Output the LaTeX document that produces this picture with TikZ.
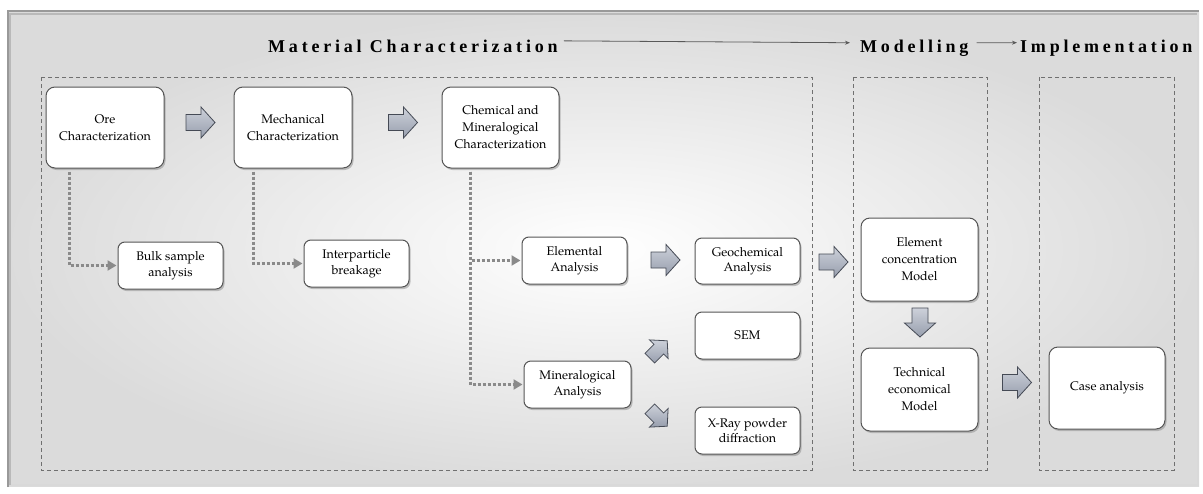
\documentclass[tikz,border=0pt]{standalone}
\usepackage{fontspec}
\setmainfont{TeX Gyre Pagella}
\newfontfamily\titlefont[LetterSpace=21]{Liberation Serif}
\usetikzlibrary{shadows,arrows.meta,calc}
\definecolor{arrtop}{HTML}{CDD1DA}
\definecolor{arrbot}{HTML}{979EAD}
\definecolor{arrline}{HTML}{454A55}
\definecolor{boxline}{HTML}{555555}
\definecolor{dashc}{HTML}{707070}
\definecolor{dotc}{HTML}{8A8A8A}
\tikzset{
  procbox/.style={draw=boxline, line width=1pt, fill=white, rounded corners=9pt,
    align=center, inner sep=2pt, font=\fontsize{12.5}{17}\selectfont,
    drop shadow={shadow xshift=1.5pt, shadow yshift=-2pt, opacity=0.45}},
  smallbox/.style={procbox, rounded corners=7pt, font=\fontsize{12.5}{15.5}\selectfont},
  phase/.style={dashc, line width=0.8pt, dash pattern=on 4pt off 3pt},
  dotconn/.style={dotc, line width=3pt, dash pattern=on 3pt off 2pt,
    -{Triangle[length=9pt,width=10pt]}, shorten >=1pt},
  titletext/.style={font=\titlefont\bfseries\fontsize{18}{20}\selectfont, inner sep=0pt, anchor=base west},
  titleline/.style={gray!70!black, line width=0.8pt, -{Stealth[length=5pt,width=4pt]}},
  barrow/.pic={\path[shade, top color=arrtop, bottom color=arrbot, draw=arrline, line width=0.8pt]
    (-14.5,-8) -- (0.5,-8) -- (0.5,-15.5) -- (14.5,0) -- (0.5,15.5) -- (0.5,8) -- (-14.5,8) -- cycle;}
}
\begin{document}
\begin{tikzpicture}[x=1pt,y=-1pt]
\useasboundingbox (0,0) rectangle (1203,493);
% frame
\shade[inner color=white, outer color=gray!28] (8,12) rectangle (1199,486);
\draw[gray!30, line width=2pt] (1198,13) -- (1198,485) -- (9,485);
\draw[gray!55, line width=1.5pt] (10,485) -- (10,14) -- (1197,14);
\draw[gray!80, line width=2pt] (8,487) -- (8,11) -- (1199,11);

% title
\node[titletext] (tmat) at (268,52) {Material Characterization};
\node[titletext] (tmod) at (860,52) {Modelling};
\node[titletext] (timp) at (1020,52) {Implementation};
\draw[titleline] ($(tmat.east)+(6,-5)$) -- ($(tmod.west)+(-10,-5)$);
\draw[titleline] ($(tmod.east)+(8,-5)$) -- ($(timp.west)+(-3,-5)$);

% phase boxes
\draw[phase] (41,77) rectangle (812,470);
\draw[phase] (853,77) rectangle (987,470);
\draw[phase] (1039,77) rectangle (1174,470);

% boxes
\node[procbox, minimum width=118pt, minimum height=81pt] (ore) at (105,127.5) {Ore\\Characterization};
\node[procbox, minimum width=118pt, minimum height=81pt] (mech) at (293,127.5) {Mechanical\\Characterization};
\node[procbox, minimum width=117pt, minimum height=81pt] (chem) at (500.5,127.5) {Chemical and\\Mineralogical\\Characterization};
\node[smallbox, minimum width=105pt, minimum height=47pt] (bulk) at (170.5,265.5) {Bulk sample\\analysis};
\node[smallbox, minimum width=105pt, minimum height=47pt] (inter) at (356.5,263.5) {Interparticle\\breakage};
\node[smallbox, minimum width=105pt, minimum height=47pt] (elem) at (574.5,260.5) {Elemental\\Analysis};
\node[smallbox, minimum width=107pt, minimum height=47pt] (miner) at (577.5,384.5) {Mineralogical\\Analysis};
\node[smallbox, minimum width=105pt, minimum height=46pt] (geo) at (747.5,261) {Geochemical\\Analysis};
\node[smallbox, minimum width=105pt, minimum height=47pt] (sem) at (747.5,335.5) {SEM};
\node[smallbox, minimum width=105pt, minimum height=47pt] (xray) at (747.5,430.5) {X-Ray powder\\diffraction};
\node[procbox, minimum width=117pt, minimum height=83pt] (econc) at (919.5,259.5) {Element\\concentration\\Model};
\node[procbox, minimum width=117pt, minimum height=83pt] (tech) at (919.5,389.5) {Technical\\economical\\Model};
\node[procbox, minimum width=116pt, minimum height=82pt] (casea) at (1107,388) {Case analysis};

% dotted connectors
\draw[dotconn] ($(ore.south west)+(24,3)$) |- (bulk.west);
\draw[dotconn] ($(mech.south west)+(20,3)$) |- (inter.west);
\draw[dotconn] ($(chem.south west)+(29,3)$) |- (elem.west);
\draw[dotconn] ($(chem.south west)+(29,3)$) |- (miner.west);

% block arrows
\pic at (200.5,122.5) {barrow};
\pic at (403,122.5) {barrow};
\pic at (665.5,260) {barrow};
\pic at (833.5,262) {barrow};
\pic[rotate=-90] at (920,322.5) {barrow};
\pic at (1017,382.5) {barrow};
\pic[rotate=45, scale=0.85] at (658.5,349.5) {barrow};
\pic[rotate=-45, scale=0.85] at (658.5,417.5) {barrow};
\end{tikzpicture}
\end{document}
